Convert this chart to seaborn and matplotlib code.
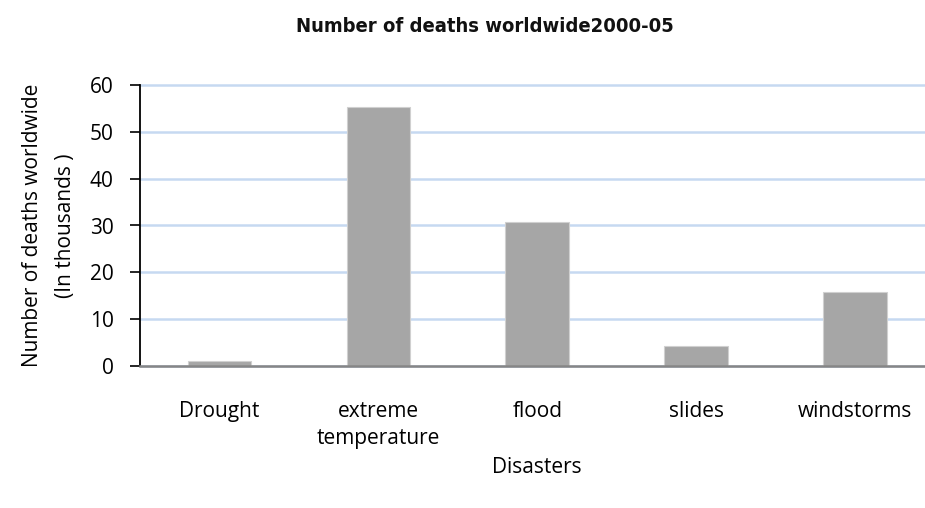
import matplotlib
matplotlib.use("Agg")
import matplotlib.pyplot as plt
import seaborn as sns
import pandas as pd

categories = ["Drought", "extreme\ntemperature", "flood", "slides", "windstorms"]
deaths_thousands = [1.0, 55.2, 30.8, 4.3, 15.8]
yticks = [0, 10, 20, 30, 40, 50, 60]

df = pd.DataFrame({"cat": categories, "val": deaths_thousands})

sns.set_theme(style="white")
plt.rcParams['font.family'] = ['Open Sans', 'DejaVu Sans']

fig = plt.figure(figsize=(9.25, 5.08), dpi=100)
ax = fig.add_axes([140/925, 142/508, 794.5/925, 281/508])

sns.barplot(data=df, x="cat", y="val", color="#a6a6a6", width=0.4,
            saturation=1, edgecolor="#d0d0d0", linewidth=0.8, ax=ax, zorder=3)

ax.set_ylim(0, 60)
ax.set_yticks(yticks)
ax.set_yticklabels([str(t) for t in yticks], fontsize=15, color="black")
ax.set_xlim(-0.5, 4.5)
ax.tick_params(axis="x", length=0, labelsize=15, pad=25, colors="black")
for lbl in ax.get_xticklabels():
    lbl.set_linespacing(1.4)
ax.tick_params(axis="y", length=7, width=1.2, direction="out", left=True,
               color="black", pad=12)
ax.yaxis.grid(True, color="#c6d9f1", linewidth=1.8, zorder=0)
for gl in ax.get_ygridlines():
    gl.set_clip_on(False)
ax.set_axisbelow(True)
for s in ["top", "right"]:
    ax.spines[s].set_visible(False)
ax.spines["left"].set_color("black")
ax.spines["left"].set_linewidth(1.3)
ax.spines["bottom"].set_color("#868686")
ax.spines["bottom"].set_linewidth(1.8)
ax.spines["left"].set_zorder(5)
ax.spines["bottom"].set_zorder(5)

ax.set_xlabel("Disasters", fontsize=15, labelpad=6, color="black")
ax.set_ylabel("Number of deaths worldwide\n(In thousands )", fontsize=15,
              color="black", labelpad=10, linespacing=1.75)

fig.text(485/925, 1 - 27/508, "Number of deaths worldwide2000-05",
         ha="center", va="center", fontsize=14.5, fontweight="bold",
         fontstretch="condensed",
         family=["DejaVu Sans", "Liberation Sans"], color="#111111")

fig.savefig("out.png", dpi=100)
